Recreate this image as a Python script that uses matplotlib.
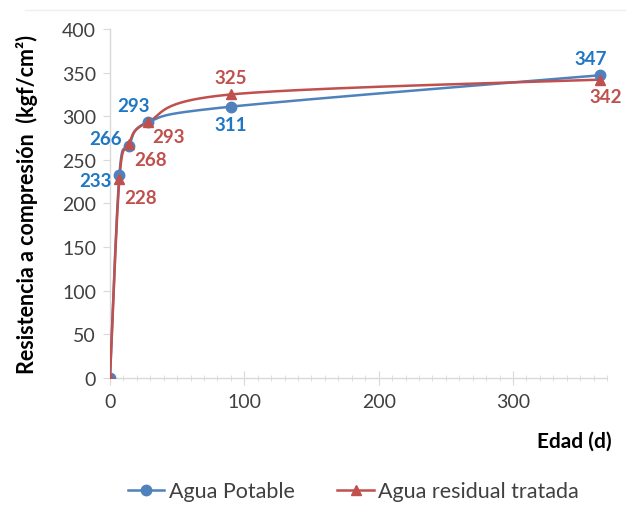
import numpy as np
import matplotlib
matplotlib.use("Agg")
import matplotlib.pyplot as plt
from matplotlib.ticker import MultipleLocator
from matplotlib.lines import Line2D

plt.rcParams['font.family'] = ['Lato', 'DejaVu Sans']

dias = [0, 7, 14, 28, 90, 365]
potable = [0, 233, 266, 293, 311, 347]
residual = [0, 228, 268, 293, 325, 342]
serie_nombres = ["Agua Potable", "Agua residual tratada"]

c_blue = '#4F81BD'
c_red = '#C0504D'
c_blue_txt = '#1F77C4'
c_red_txt = '#C0504D'

fig = plt.figure(figsize=(6.31, 5.06), dpi=100)
ax = fig.add_axes([0.1743, 0.251, 0.962 - 0.1743, 0.9407 - 0.251])
ax.set_xlim(0, 370)
ax.set_ylim(0, 400)


def smooth(ax, xs, ys, n=60):
    # Bezier smoothing in display space (Excel-like)
    pts = ax.transData.transform(np.column_stack([xs, ys]))
    out = []
    m = len(pts)
    for i in range(m - 1):
        p0 = pts[i - 1] if i > 0 else pts[i]
        p1 = pts[i]
        p2 = pts[i + 1]
        p3 = pts[i + 2] if i + 2 < m else pts[i + 1]
        c1 = p1 + (p2 - p0) / 6.0
        c2 = p2 - (p3 - p1) / 6.0
        t = np.linspace(0, 1, n)[:, None]
        seg = ((1 - t) ** 3) * p1 + 3 * ((1 - t) ** 2) * t * c1 + 3 * (1 - t) * t ** 2 * c2 + t ** 3 * p2
        out.append(seg if i == 0 else seg[1:])
    out = np.vstack(out)
    d = ax.transData.inverted().transform(out)
    return d[:, 0], d[:, 1]


sx, sy = smooth(ax, dias, potable)
ax.plot(sx, sy, color=c_blue, lw=1.8, zorder=3)
ax.plot(dias, potable, 'o', color=c_blue, ms=7.5, zorder=4)
rx, ry = smooth(ax, dias, residual)
ax.plot(rx, ry, color=c_red, lw=1.8, zorder=3)
ax.plot(dias, residual, '^', color=c_red, ms=7.5, zorder=5)

# data labels
blue_off = [None, (-17, -4), (-17, 5), (-10, 12), (0, -13), (-7, 12)]
red_off = [None, (15, -13), (16, -11), (15, -10), (0, 12), (4, -12)]
for i, (x, y) in enumerate(zip(dias, potable)):
    if blue_off[i] is None:
        continue
    ax.annotate(str(y), (x, y), xytext=blue_off[i], textcoords='offset points',
                ha='center', va='center', color=c_blue_txt, fontsize=13.5,
                fontweight='bold', zorder=6)
for i, (x, y) in enumerate(zip(dias, residual)):
    if red_off[i] is None:
        continue
    ax.annotate(str(y), (x, y), xytext=red_off[i], textcoords='offset points',
                ha='center', va='center', color=c_red_txt, fontsize=13.5,
                fontweight='bold', zorder=6)

for s in ['top', 'right']:
    ax.spines[s].set_visible(False)
for s in ['left', 'bottom']:
    ax.spines[s].set_color('#D9D9D9')
    ax.spines[s].set_linewidth(1.0)

ax.xaxis.set_major_locator(MultipleLocator(100))
ax.xaxis.set_minor_locator(MultipleLocator(10))
ax.yaxis.set_major_locator(MultipleLocator(50))
ax.tick_params(axis='x', which='major', direction='inout', length=10, color='#D9D9D9',
               labelsize=14, labelcolor='#404040', pad=6)
ax.tick_params(axis='x', which='minor', direction='inout', length=5, color='#D9D9D9')
ax.tick_params(axis='y', which='major', direction='out', length=5, color='#D9D9D9',
               labelsize=14, labelcolor='#404040', pad=5)

ax.set_ylabel("Resistencia a compresión  (kgf/cm²)", fontsize=15.5, fontweight='bold',
              color='#000000')
ax.yaxis.set_label_coords(-0.145, 0.5)
fig.text(0.97, 0.128, "Edad (d)", ha='right', va='center', fontsize=15,
         fontweight='bold', color='#000000')

handles = [Line2D([], [], color=c_blue, marker='o', ms=7.5, lw=1.8),
           Line2D([], [], color=c_red, marker='^', ms=7.5, lw=1.8)]
fig.legend(handles, serie_nombres, loc='center', bbox_to_anchor=(0.56, 0.027),
           ncol=2, frameon=False, fontsize=15.5, handlelength=1.7,
           handletextpad=0.2, columnspacing=2.0, labelcolor='#404040')

fig.add_artist(Line2D([0.04, 0.99], [0.978, 0.978], color='#EFEFEF', lw=1,
                      transform=fig.transFigure))

fig.savefig('out.png', dpi=100)
